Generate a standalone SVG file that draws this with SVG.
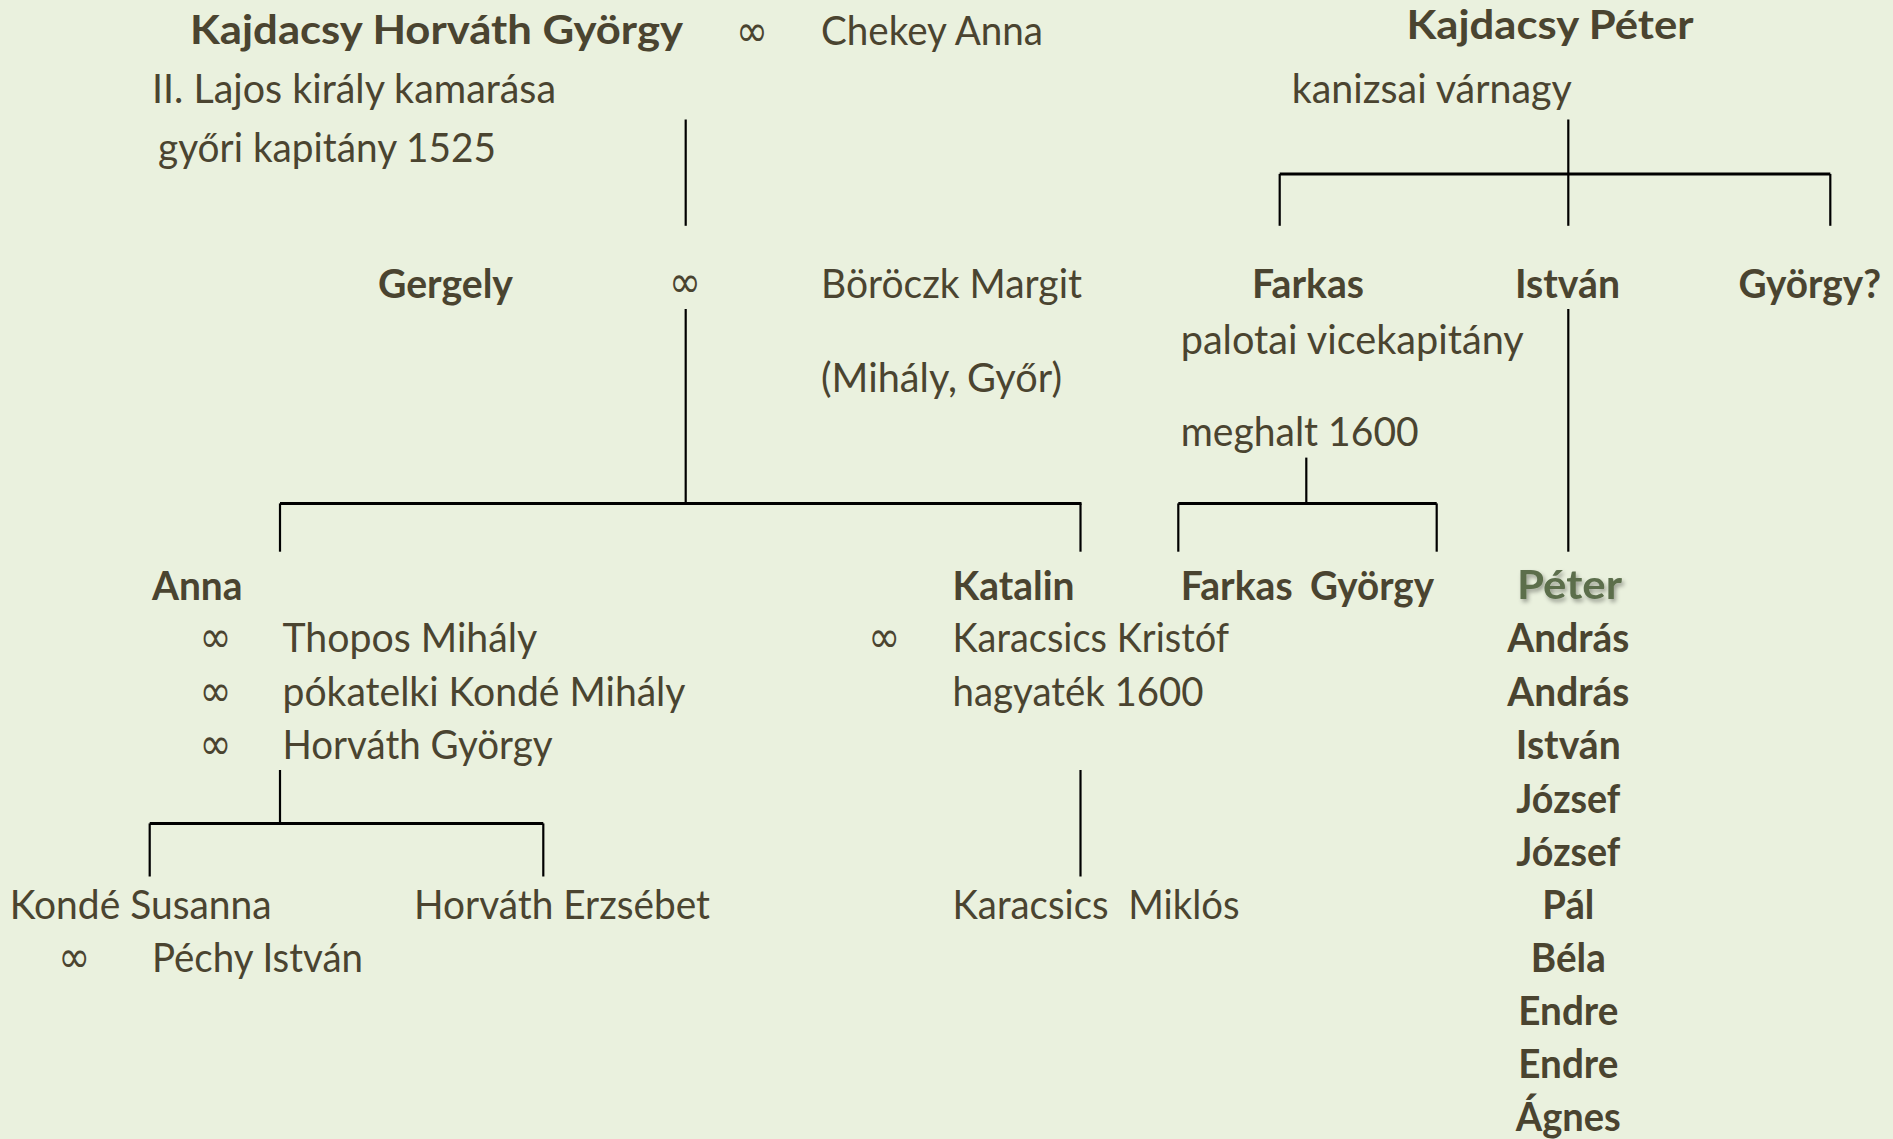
<svg xmlns="http://www.w3.org/2000/svg" width="1893" height="1139" viewBox="0 0 1893 1139">
<style>
text{font-family:Lato,"Open Sans","Liberation Sans",sans-serif;font-size:40px;fill:#4A4430;white-space:pre}
.b{font-weight:bold}
.m{text-anchor:middle}
.inf{font-family:"DejaVu Sans",sans-serif;font-size:44px}
.ln line{stroke:#000;stroke-width:2.2}
.ln line.h{stroke-width:3}
</style>
<defs>
<filter id="sh" x="-20%" y="-20%" width="150%" height="150%">
<feDropShadow dx="2" dy="3" stdDeviation="2" flood-color="#000" flood-opacity="0.35"/>
</filter>
</defs>
<rect width="1893" height="1139" fill="#EAF1DE"/>
<g class="ln" id="connectors">
<line x1="685.7" y1="119.5" x2="685.7" y2="225.8"/>
<line x1="685.7" y1="309" x2="685.7" y2="503.4"/>
<line class="h" x1="280" y1="503.4" x2="1081.5" y2="503.4"/>
<line x1="280" y1="503.4" x2="280" y2="551.7"/>
<line x1="1080.5" y1="503.4" x2="1080.5" y2="551.7"/>
<line x1="1568.3" y1="119.5" x2="1568.3" y2="225.8"/>
<line class="h" x1="1279.7" y1="173.9" x2="1830.3" y2="173.9"/>
<line x1="1279.7" y1="173.9" x2="1279.7" y2="225.8"/>
<line x1="1830.3" y1="173.9" x2="1830.3" y2="225.8"/>
<line x1="1568.3" y1="309" x2="1568.3" y2="551.7"/>
<line x1="1306.3" y1="457.6" x2="1306.3" y2="503.4"/>
<line class="h" x1="1178.3" y1="503.4" x2="1436.7" y2="503.4"/>
<line x1="1178.3" y1="503.4" x2="1178.3" y2="551.7"/>
<line x1="1436.7" y1="503.4" x2="1436.7" y2="551.7"/>
<line x1="280" y1="770" x2="280" y2="823.4"/>
<line class="h" x1="149.7" y1="823.4" x2="543.3" y2="823.4"/>
<line x1="149.7" y1="823.4" x2="149.7" y2="876.5"/>
<line x1="543.3" y1="823.4" x2="543.3" y2="876.5"/>
<line x1="1080.5" y1="770" x2="1080.5" y2="876.5"/>
</g>
<g id="n-kajdacsy-horvath-gyorgy">
<text class="b" x="190" y="43.5" font-size="42" textLength="493" lengthAdjust="spacingAndGlyphs">Kajdacsy Horváth György</text>
<text class="inf m" x="752" y="46" textLength="32" lengthAdjust="spacingAndGlyphs">∞</text>
<text x="821" y="44.7" textLength="222" lengthAdjust="spacingAndGlyphs">Chekey Anna</text>
<text x="152" y="102.6" textLength="404" lengthAdjust="spacingAndGlyphs">II. Lajos király kamarása</text>
<text x="158" y="161.8" textLength="338" lengthAdjust="spacingAndGlyphs">győri kapitány 1525</text>
</g>
<g id="n-kajdacsy-peter">
<text class="b" x="1406.5" y="38.6" textLength="287" lengthAdjust="spacingAndGlyphs">Kajdacsy Péter</text>
<text x="1291.8" y="102.6" textLength="280" lengthAdjust="spacingAndGlyphs">kanizsai várnagy</text>
</g>
<g id="n-gergely">
<text class="b" x="378" y="298" textLength="135" lengthAdjust="spacingAndGlyphs">Gergely</text>
<text class="inf m" x="685" y="297" textLength="32" lengthAdjust="spacingAndGlyphs">∞</text>
<text x="821" y="298" textLength="261" lengthAdjust="spacingAndGlyphs">Böröczk Margit</text>
<text x="821" y="392.4" textLength="241" lengthAdjust="spacingAndGlyphs">(Mihály, Győr)</text>
</g>
<g id="n-farkas">
<text class="b" x="1252" y="298" textLength="112" lengthAdjust="spacingAndGlyphs">Farkas</text>
<text x="1180.7" y="353.7" textLength="343" lengthAdjust="spacingAndGlyphs">palotai vicekapitány</text>
<text x="1180.7" y="445.5" textLength="238" lengthAdjust="spacingAndGlyphs">meghalt 1600</text>
</g>
<g id="n-istvan">
<text class="b" x="1515" y="298" textLength="105" lengthAdjust="spacingAndGlyphs">István</text>
</g>
<g id="n-gyorgy-q">
<text class="b" x="1738.5" y="298" textLength="142.5" lengthAdjust="spacingAndGlyphs">György?</text>
</g>
<g id="n-anna">
<text class="b" x="152" y="600" textLength="90.5" lengthAdjust="spacingAndGlyphs">Anna</text>
<text class="inf m" x="215.5" y="652" textLength="32" lengthAdjust="spacingAndGlyphs">∞</text>
<text x="282.5" y="652" textLength="254.7" lengthAdjust="spacingAndGlyphs">Thopos Mihály</text>
<text class="inf m" x="215.5" y="706" textLength="32" lengthAdjust="spacingAndGlyphs">∞</text>
<text x="282.5" y="706.3" textLength="403" lengthAdjust="spacingAndGlyphs">pókatelki Kondé Mihály</text>
<text class="inf m" x="215.5" y="759" textLength="32" lengthAdjust="spacingAndGlyphs">∞</text>
<text x="282.5" y="759.4" textLength="270" lengthAdjust="spacingAndGlyphs">Horváth György</text>
</g>
<g id="n-katalin">
<text class="b" x="952.6" y="600" textLength="122" lengthAdjust="spacingAndGlyphs">Katalin</text>
<text class="inf m" x="884.3" y="652" textLength="32" lengthAdjust="spacingAndGlyphs">∞</text>
<text x="952.6" y="652" textLength="276.5" lengthAdjust="spacingAndGlyphs">Karacsics Kristóf</text>
<text x="952.6" y="706.3" textLength="251" lengthAdjust="spacingAndGlyphs">hagyaték 1600</text>
</g>
<g id="n-farkas-jr">
<text class="b" x="1180.7" y="600" textLength="112" lengthAdjust="spacingAndGlyphs">Farkas</text>
</g>
<g id="n-gyorgy-jr">
<text class="b" x="1310" y="600" textLength="124" lengthAdjust="spacingAndGlyphs">György</text>
</g>
<g id="n-peter">
<text class="b m" x="1569.5" y="599" font-size="42" style="fill:#5B6E4C" filter="url(#sh)" textLength="105" lengthAdjust="spacingAndGlyphs">Péter</text>
<text class="b m" x="1568.3" y="652" textLength="122" lengthAdjust="spacingAndGlyphs">András</text>
<text class="b m" x="1568.3" y="706.3" textLength="122" lengthAdjust="spacingAndGlyphs">András</text>
<text class="b m" x="1568.3" y="759.4" textLength="105" lengthAdjust="spacingAndGlyphs">István</text>
<text class="b m" x="1568.3" y="812.5" textLength="104" lengthAdjust="spacingAndGlyphs">József</text>
<text class="b m" x="1568.3" y="865.6" textLength="104" lengthAdjust="spacingAndGlyphs">József</text>
<text class="b m" x="1568.3" y="918.7" textLength="52" lengthAdjust="spacingAndGlyphs">Pál</text>
<text class="b m" x="1568.3" y="971.9" textLength="75" lengthAdjust="spacingAndGlyphs">Béla</text>
<text class="b m" x="1568.3" y="1025" textLength="100" lengthAdjust="spacingAndGlyphs">Endre</text>
<text class="b m" x="1568.3" y="1078" textLength="100" lengthAdjust="spacingAndGlyphs">Endre</text>
<text class="b m" x="1568.3" y="1131" textLength="105" lengthAdjust="spacingAndGlyphs">Ágnes</text>
</g>
<g id="n-konde-susanna">
<text x="9.7" y="918.7" textLength="262" lengthAdjust="spacingAndGlyphs">Kondé Susanna</text>
<text class="inf m" x="74.3" y="972" textLength="32" lengthAdjust="spacingAndGlyphs">∞</text>
<text x="152" y="971.9" textLength="211" lengthAdjust="spacingAndGlyphs">Péchy István</text>
</g>
<g id="n-horvath-erzsebet">
<text x="414" y="918.7" textLength="296" lengthAdjust="spacingAndGlyphs">Horváth Erzsébet</text>
</g>
<g id="n-karacsics-miklos">
<text x="952.6" y="918.7" textLength="287" lengthAdjust="spacingAndGlyphs">Karacsics  Miklós</text>
</g>
</svg>
